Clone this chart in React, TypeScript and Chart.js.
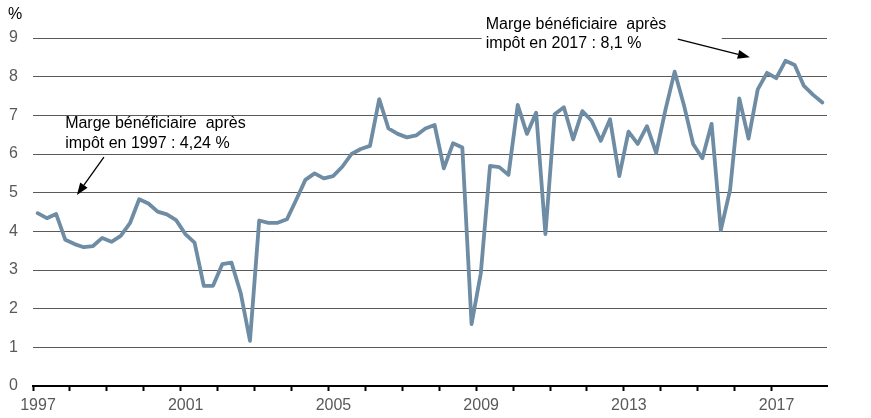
import React, { useEffect, useRef } from 'react';
import Chart from 'chart.js/auto';

// Marge bénéficiaire après impôt, données trimestrielles 1997T1 - 2018T2 (%)
const startYear = 1997;
const endYear = 2018.5;
const tickYears = ['1997', '2001', '2005', '2009', '2013', '2017'];

const margin1997to2002 = [
  4.47, 4.34, 4.45, 3.78, 3.67, 3.59, 3.62, 3.83, 3.73, 3.88, 4.21, 4.83,
  4.72, 4.51, 4.44, 4.29, 3.93, 3.71, 2.59, 2.59, 3.15, 3.19, 2.4, 1.17,
];
const margin2003to2008 = [
  4.28, 4.22, 4.22, 4.31, 4.81, 5.33, 5.5, 5.37, 5.43, 5.67, 6.0, 6.13,
  6.21, 7.42, 6.66, 6.52, 6.43, 6.48, 6.66, 6.75, 5.63, 6.28, 6.17, 1.6,
];
const margin2009to2014 = [
  2.91, 5.69, 5.66, 5.46, 7.27, 6.52, 7.07, 3.93, 7.03, 7.21, 6.38, 7.11,
  6.86, 6.34, 6.9, 5.43, 6.58, 6.26, 6.72, 6.03, 7.14, 8.13, 7.27, 6.26,
];
const margin2015to2018 = [
  5.89, 6.78, 4.03, 5.07, 7.44, 6.4, 7.67, 8.1, 7.96, 8.41, 8.3, 7.76,
  7.53, 7.33,
];
const margin = [...margin1997to2002, ...margin2003to2008, ...margin2009to2014, ...margin2015to2018];

const note1997 = ['Marge bénéficiaire  après', 'impôt en 1997 : 4,24 %'];
const note2017 = ['Marge bénéficiaire  après', 'impôt en 2017 : 8,1 %'];

const FONT = 'Arial, "Liberation Sans", sans-serif';

const drawArrow = (ctx: CanvasRenderingContext2D, x1: number, y1: number, x2: number, y2: number) => {
  const ang = Math.atan2(y2 - y1, x2 - x1);
  const head = 12;
  const half = 4.5;
  const bx = x2 - head * Math.cos(ang);
  const by = y2 - head * Math.sin(ang);
  ctx.save();
  ctx.strokeStyle = '#000';
  ctx.fillStyle = '#000';
  ctx.lineWidth = 1.3;
  ctx.beginPath();
  ctx.moveTo(x1, y1);
  ctx.lineTo(bx, by);
  ctx.stroke();
  ctx.beginPath();
  ctx.moveTo(x2, y2);
  ctx.lineTo(bx + half * Math.sin(ang), by - half * Math.cos(ang));
  ctx.lineTo(bx - half * Math.sin(ang), by + half * Math.cos(ang));
  ctx.closePath();
  ctx.fill();
  ctx.restore();
};

const notesPlugin = {
  id: 'notes',
  afterDraw(chart: any) {
    const { ctx, scales } = chart;
    const px = (x: number, y: number) => [scales.x.getPixelForValue(x), scales.y.getPixelForValue(y)];
    ctx.save();
    ctx.font = `16px ${FONT}`;
    ctx.textBaseline = 'alphabetic';
    ctx.textAlign = 'left';

    // unité de l'axe
    ctx.fillStyle = '#000';
    ctx.fillText('%', 8, 19);

    // note 1997
    const [ax, ay1] = px(1997.87, 6.67);
    const [, ay2] = px(1997.87, 6.155);
    ctx.fillText(note1997[0], ax, ay1);
    ctx.fillText(note1997[1], ax, ay2);
    const [a1x, a1y] = px(1998.92, 5.92);
    const [a2x, a2y] = px(1998.19, 4.94);
    drawArrow(ctx, a1x, a1y, a2x, a2y);

    // note 2017, sur fond blanc
    const [bx0, by0] = px(2009.15, 9.72);
    const [bx1, by1] = px(2015.65, 8.56);
    ctx.fillStyle = '#fff';
    ctx.fillRect(bx0, by0, bx1 - bx0, by1 - by0);
    ctx.fillStyle = '#000';
    const [tx, ty1] = px(2009.26, 9.23);
    const [, ty2] = px(2009.26, 8.74);
    ctx.fillText(note2017[0], tx, ty1);
    ctx.fillText(note2017[1], tx, ty2);
    const [c1x, c1y] = px(2014.46, 8.97);
    const [c2x, c2y] = px(2016.41, 8.5);
    drawArrow(ctx, c1x, c1y, c2x, c2y);
    ctx.restore();
  },
};

const App: React.FC = () => {
  const canvasRef = useRef<HTMLCanvasElement | null>(null);
  const chartRef = useRef<Chart | null>(null);

  useEffect(() => {
    if (!canvasRef.current) return;
    const ctx = canvasRef.current.getContext('2d');
    if (!ctx) return;

    chartRef.current = new Chart(ctx, {
      type: 'line',
      data: {
        datasets: [
          {
            label: 'Marge bénéficiaire après impôt',
            data: margin.map((v, i) => ({ x: startYear + (i + 0.5) / 4, y: v })),
            borderColor: '#6E8CA3',
            borderWidth: 3.8,
            borderJoinStyle: 'round',
            borderCapStyle: 'round',
            pointRadius: 0,
            tension: 0,
            fill: false,
            clip: false as any,
          },
        ],
      },
      options: {
        responsive: false,
        animation: false,
        layout: { padding: { top: 38, right: 44, bottom: 0, left: 0 } },
        plugins: {
          legend: { display: false },
          tooltip: { enabled: false },
        },
        scales: {
          x: {
            type: 'linear',
            min: startYear,
            max: endYear,
            afterBuildTicks: (scale: any) => {
              scale.ticks = scale.ticks.filter((t: any) => Number.isInteger(t.value));
            },
            afterFit: (scale: any) => {
              scale.height = 32;
            },
            ticks: {
              stepSize: 1,
              autoSkip: false,
              maxRotation: 0,
              labelOffset: 5,
              padding: 5,
              color: '#595959',
              font: { family: FONT, size: 16 },
              callback: (v: any) => (tickYears.includes(String(v)) ? String(v) : ''),
            },
            grid: {
              drawOnChartArea: false,
              drawTicks: true,
              tickLength: 5,
              tickColor: '#000',
              tickWidth: 2,
            },
            border: { display: true, color: '#000', width: 2 },
          },
          y: {
            min: 0,
            max: 9,
            afterFit: (scale: any) => {
              scale.width = 33;
            },
            ticks: {
              stepSize: 1,
              padding: 15,
              color: '#595959',
              font: { family: FONT, size: 16 },
            },
            grid: {
              color: '#5a5a5a',
              lineWidth: 1,
              drawTicks: false,
            },
            border: { display: false },
          },
        },
      },
      plugins: [notesPlugin],
    });

    return () => {
      if (chartRef.current) {
        chartRef.current.destroy();
        chartRef.current = null;
      }
    };
  }, []);

  return (
    <div style={{ position: 'fixed', left: 0, top: 0, width: 871, height: 418, background: '#fff' }}>
      <canvas ref={canvasRef} width={871} height={418} />
    </div>
  );
};

export default App;
